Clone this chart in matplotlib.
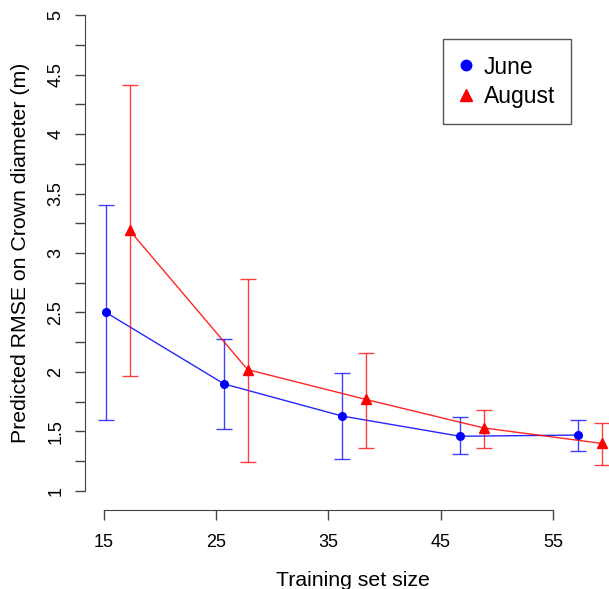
import numpy as np
import matplotlib.pyplot as plt
from matplotlib.ticker import MultipleLocator
from matplotlib.lines import Line2D

plt.rcParams['font.family'] = ['Liberation Sans', 'DejaVu Sans']

# ─── Data ───────────────────────────────────────────────────────────
sizes = [15, 25, 35, 45, 55]
aug_offset = 2

june_mean = [2.50, 1.90, 1.63, 1.46, 1.47]
june_lo = [1.60, 1.52, 1.27, 1.31, 1.34]
june_hi = [3.40, 2.28, 1.99, 1.62, 1.60]

aug_mean = [3.19, 2.02, 1.77, 1.53, 1.40]
aug_lo = [1.97, 1.24, 1.36, 1.36, 1.22]
aug_hi = [4.41, 2.78, 2.16, 1.68, 1.57]

xtick_labels = ['15', '25', '35', '45', '55']

# ─── Figure ──────────────────────────────────────────────────────────
W, H = 609, 589
fig = plt.figure(figsize=(W / 100, H / 100), dpi=100)
rect = [85 / W, 79 / H, 536 / W, 514 / H]
ax = fig.add_axes(rect)

x_june = np.array(sizes, dtype=float)
x_aug = x_june + aug_offset

def draw(x, mean, lo, hi, color, marker, ms):
    mean = np.array(mean)
    err = [mean - np.array(lo), np.array(hi) - mean]
    ax.errorbar(x, mean, yerr=err, fmt='none', ecolor=color, elinewidth=1,
                capsize=5.5, capthick=1, alpha=0.75)
    ax.plot(x, mean, '-', color=color, linewidth=1, alpha=0.85)
    ax.plot(x, mean, linestyle='none', marker=marker, color=color, ms=ms)

draw(x_june, june_mean, june_lo, june_hi, 'blue', 'o', 5.5)
draw(x_aug, aug_mean, aug_lo, aug_hi, 'red', '^', 6.5)

ax.set_xlim(13.22, 58.64)
ax.set_ylim(0.8403, 5.1597)

# y axis in R style
for s in ['top', 'right', 'bottom']:
    ax.spines[s].set_visible(False)
ax.spines['left'].set_bounds(1, 5)
ax.spines['left'].set_color('#444444')
ax.yaxis.set_minor_locator(MultipleLocator(0.25))
ax.set_yticks(np.arange(1, 5.01, 0.5))
ax.set_yticklabels(['1', '1.5', '2', '2.5', '3', '3.5', '4', '4.5', '5'],
                   rotation=90, va='center')
ax.tick_params(axis='y', which='both', length=7, width=1, color='#444444',
               labelsize=13, pad=8)
ax.set_xticks([])
ax.set_ylabel('Predicted RMSE on Crown diameter (m)', fontsize=15.3,
              labelpad=12)

# x axis drawn on its own scale (as in the reference)
axx = fig.add_axes(rect)
axx.patch.set_visible(False)
axx.set_xlim(13.307, 61.06)
axx.set_ylim(0, 1)
for s in ['top', 'right', 'left']:
    axx.spines[s].set_visible(False)
axx.spines['bottom'].set_bounds(15, 55)
axx.spines['bottom'].set_color('#444444')
axx.set_yticks([])
axx.set_xticks([15, 25, 35, 45, 55])
axx.set_xticklabels(xtick_labels)
axx.tick_params(axis='x', length=7, width=1, color='#444444',
                labelsize=13, pad=10.5)
axx.set_xlabel('Training set size', fontsize=15.3, labelpad=14)

# legend
handles = [Line2D([], [], linestyle='none', marker='o', color='blue', ms=7.5),
           Line2D([], [], linestyle='none', marker='^', color='red', ms=8.5)]
leg = fig.legend(handles, ['June', 'August'], loc='upper left',
                 bbox_to_anchor=(443 / W, 1 - 39 / H), borderaxespad=0,
                 fontsize=16.5, frameon=True, fancybox=False,
                 edgecolor='#555555', framealpha=1, handlelength=0.6,
                 handletextpad=0.45, labelspacing=0.28, borderpad=0.72)
leg.get_frame().set_linewidth(1)

fig.savefig('out.png', dpi=100)
